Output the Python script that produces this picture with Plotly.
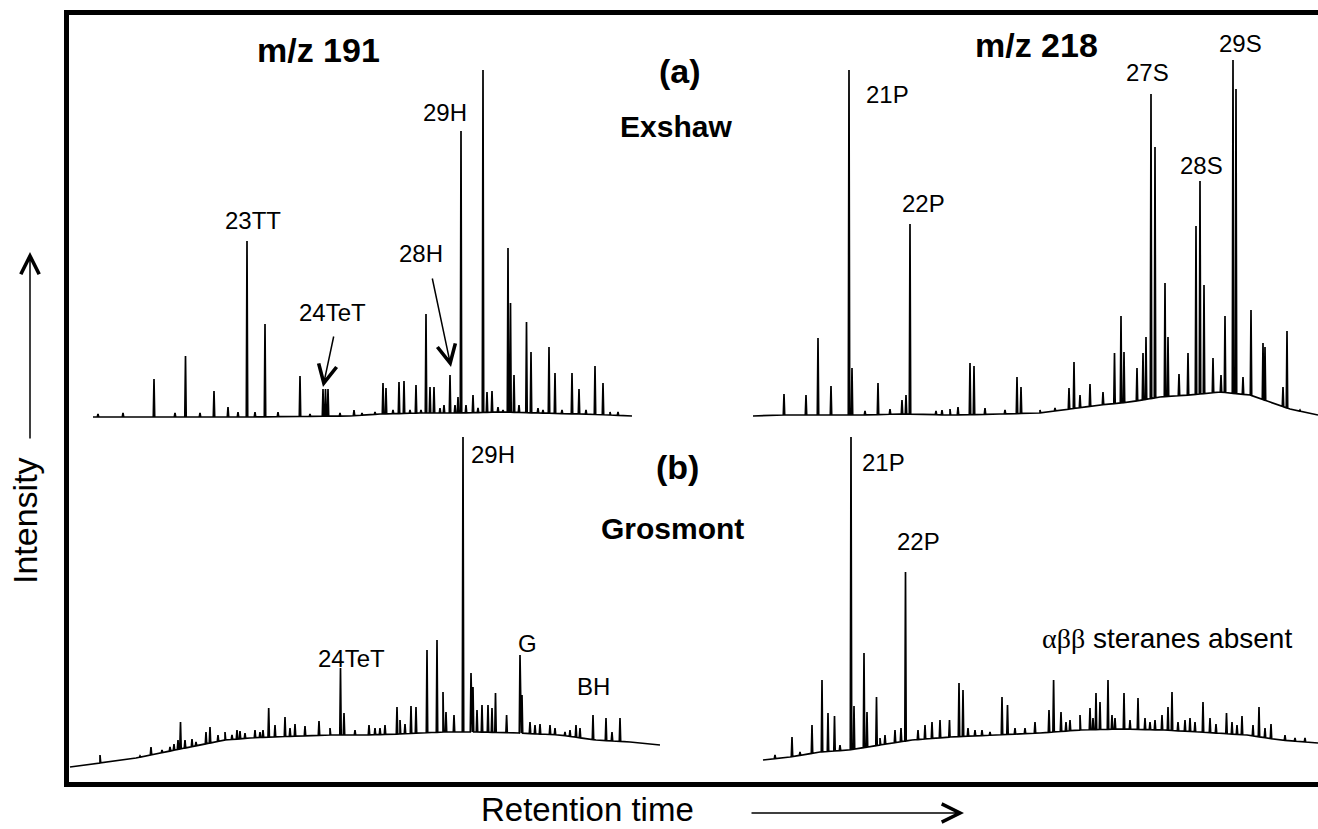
import numpy as np
import plotly.graph_objects as go

W, H = 1318, 829
FONT = "Liberation Sans, Arial, sans-serif"

# ---------------- data (retention time in min, intensity in arbitrary units) ----------------
# (a) Exshaw, m/z 191
ex191_base_t = [9.3, 15.0, 25.0, 35.0, 38.0, 42.0, 46.0, 50.0, 54.0, 58.0, 61.0, 63.2]
ex191_base_i = [0, 0, 0, 1, 3, 4, 4, 5, 4, 3, 2, 1]
ex191_peak_t = [9.8, 12.3, 15.4, 17.5, 18.55, 20.0, 21.4, 22.8, 23.8, 24.7, 25.5, 26.5, 27.8,
                30.0, 31.0, 32.3, 32.55, 32.8, 34.0, 35.4, 36.2, 37.5, 38.3, 38.6, 39.3, 39.9,
                40.4, 41.0, 41.6, 42.1, 42.6, 43.0, 43.4, 44.0, 44.4, 45.0, 45.5, 45.8, 46.1,
                46.6, 47.3, 47.8, 48.3, 48.7, 49.2, 49.8, 50.3, 50.8, 51.05, 51.4, 51.9, 52.65,
                53.1, 53.8, 54.3, 54.9, 55.5, 56.2, 57.2, 57.9, 58.6, 59.5, 60.3, 61.0, 61.8]
ex191_peak_i = [3, 4, 38, 4, 61, 4, 26, 10, 5, 176, 5, 93, 5,
                41, 3, 28, 28, 28, 4, 7, 4, 5, 34, 29, 7, 35,
                36, 7, 32, 7, 103, 30, 30, 9, 12, 42, 12, 20, 286,
                12, 22, 9, 347, 25, 26, 10, 7, 169, 114, 42, 12, 95,
                65, 9, 7, 70, 44, 7, 44, 28, 7, 51, 34, 5, 5]

# (a) Exshaw, m/z 218
ex218_base_t = [75.3, 78.0, 82.0, 86.0, 90.0, 95.0, 100.0, 104.0, 107.0, 110.0, 113.0, 116.0,
                119.0, 122.0, 125.0, 127.0, 129.0, 131.8]
ex218_base_i = [1, 2, 2, 2, 3, 2, 3, 4, 8, 12, 15, 20, 22, 25, 22, 15, 8, 2]
ex218_peak_t = [78.4, 80.6, 81.8, 83.1, 84.9, 85.2, 86.5, 87.8, 89.0, 90.2, 90.6, 91.0, 93.6,
                94.2, 95.0, 95.8, 97.0, 97.4, 98.5, 100.5, 101.7, 102.1, 104.0, 105.5, 106.9,
                107.4, 108.0, 109.0, 110.3, 111.45, 112.1, 112.4, 113.7, 114.3, 114.6, 115.1,
                115.5, 116.5, 116.8, 117.9, 118.8, 119.6, 120.0, 120.4, 121.3, 122.1, 122.5,
                123.3, 123.6, 124.3, 125.1, 126.3, 126.5, 128.3, 128.7, 130.0]
ex218_peak_i = [23, 22, 79, 31, 347, 49, 6, 34, 8, 17, 22, 193, 6,
                7, 8, 10, 54, 51, 9, 7, 40, 30, 7, 9, 29,
                55, 22, 33, 25, 64, 101, 65, 49, 64, 80, 323,
                270, 134, 80, 43, 64, 191, 236, 132, 59, 42, 101,
                357, 328, 40, 107, 74, 70, 30, 86, 7]

# (b) Grosmont, m/z 191
gr191_base_t = [7.0, 10.0, 13.6, 17.5, 20.0, 22.5, 25.0, 27.0, 30.0, 33.0, 36.6, 40.0, 44.3,
                48.0, 51.9, 56.0, 59.6, 63.0, 66.0]
gr191_base_i = [13, 17, 22, 30, 35, 40, 42, 43, 44, 45, 45, 46, 48, 48, 47, 45, 40, 38, 35]
gr191_peak_t = [10.0, 14.0, 15.1, 16.2, 17.0, 17.4, 17.8, 18.05, 18.5, 19.2, 19.6, 20.6, 21.0,
                21.8, 22.5, 23.2, 23.7, 24.0, 24.5, 25.5, 26.0, 26.3, 26.87, 27.5, 28.5, 29.0,
                29.5, 30.5, 31.9, 33.0, 34.05, 34.4, 35.5, 36.9, 37.5, 38.0, 38.5, 39.7, 40.0,
                40.5, 41.1, 41.6, 42.7, 43.7, 44.3, 44.6, 45.4, 46.3, 47.1, 47.3, 47.7, 48.2,
                48.8, 49.2, 49.55, 50.66, 52.0, 52.2, 53.0, 53.5, 54.0, 55.0, 55.5, 56.5, 57.0,
                57.6, 58.0, 59.3, 60.6, 61.2, 62.0]
gr191_peak_i = [25, 24, 33, 30, 33, 36, 40, 58, 40, 41, 38, 48, 53,
                45, 48, 45, 50, 49, 47, 50, 48, 50, 72, 55, 63, 52,
                56, 54, 59, 52, 112, 67, 50, 55, 52, 52, 55, 73, 60,
                56, 74, 73, 130, 140, 88, 68, 65, 343, 107, 93, 70, 75,
                75, 72, 87, 65, 125, 85, 58, 55, 56, 55, 52, 48, 50,
                55, 52, 65, 62, 48, 62]

# (b) Grosmont, m/z 218
gr218_base_t = [76.3, 79.0, 82.0, 84.9, 88.0, 91.2, 95.0, 99.6, 104.0, 108.0, 112.0, 116.4,
                120.0, 124.7, 128.0, 131.8]
gr218_base_i = [20, 23, 28, 30, 35, 40, 43, 45, 47, 50, 51, 50, 48, 45, 40, 37]
gr218_peak_t = [77.5, 79.2, 80.0, 81.2, 82.2, 82.8, 83.45, 84.0, 85.1, 85.4, 86.4, 86.7, 87.65,
                88.0, 88.5, 89.5, 90.1, 90.55, 91.8, 92.5, 93.2, 94.0, 94.95, 95.9, 96.3, 96.8,
                97.5, 98.2, 99.0, 100.2, 100.75, 101.5, 102.5, 103.5, 104.9, 105.36, 106.1,
                106.6, 107.0, 108.0, 109.0, 109.3, 109.6, 110.0, 110.8, 111.2, 111.5, 112.4,
                113.0, 113.8, 114.5, 115.0, 115.5, 116.2, 116.8, 117.2, 117.8, 118.5, 119.0,
                119.5, 120.3, 121.0, 121.6, 122.65, 123.2, 123.7, 124.2, 125.3, 125.9, 126.5,
                127.1, 128.5, 129.5, 130.5]
gr218_peak_i = [25, 43, 28, 55, 100, 67, 64, 35, 343, 74, 127, 68, 83,
                42, 45, 50, 52, 208, 50, 55, 58, 60, 60, 97, 90, 52,
                50, 50, 48, 83, 75, 52, 52, 58, 70, 100, 68,
                58, 60, 65, 72, 62, 87, 78, 100, 65, 62, 87,
                60, 82, 62, 58, 60, 65, 73, 88, 58, 60, 62,
                58, 78, 62, 56, 67, 58, 55, 64, 55, 73, 52,
                56, 45, 42, 42]

# peak labels: (text, retention time, intensity, row)
peak_labels = [
    ("23TT", 25.3, 197, 1), ("24TeT", 33.2, 105, 1), ("28H", 42.1, 164, 1), ("29H", 44.5, 305, 1),
    ("21P", 88.7, 323, 1), ("22P", 92.3, 214, 1), ("27S", 114.7, 345, 1), ("28S", 120.1, 252, 1),
    ("29S", 124.0, 374, 1),
    ("29H", 49.3, 326, 2), ("24TeT", 35.1, 122, 2), ("G", 52.75, 137, 2), ("BH", 59.35, 94, 2),
    ("21P", 88.3, 318, 2), ("22P", 91.8, 239, 2),
]


# ---------------- build chromatogram lines ----------------
def chromatogram(bt, bi, pt, pi, hw=0.07):
    bt = np.asarray(bt, float)
    bi = np.asarray(bi, float)
    pts = list(zip(bt, bi))
    for t, a in zip(pt, pi):
        base_l = float(np.interp(t - hw, bt, bi))
        base_r = float(np.interp(t + hw, bt, bi))
        pts += [(t - hw, base_l), (t, a), (t + hw, base_r)]
    pts.sort(key=lambda p: p[0])
    return [p[0] for p in pts], [p[1] for p in pts]


fig = go.Figure()
series = [
    (ex191_base_t, ex191_base_i, ex191_peak_t, ex191_peak_i, "y", "Exshaw m/z 191"),
    (ex218_base_t, ex218_base_i, ex218_peak_t, ex218_peak_i, "y", "Exshaw m/z 218"),
    (gr191_base_t, gr191_base_i, gr191_peak_t, gr191_peak_i, "y2", "Grosmont m/z 191"),
    (gr218_base_t, gr218_base_i, gr218_peak_t, gr218_peak_i, "y2", "Grosmont m/z 218"),
]
for bt, bi, pt, pi, ya, name in series:
    xs, ys = chromatogram(bt, bi, pt, pi)
    fig.add_trace(go.Scatter(x=xs, y=ys, mode="lines", yaxis=ya, name=name,
                             line=dict(color="black", width=1.7), hoverinfo="skip",
                             showlegend=False))


def px(x):
    return x / W


def py(y):
    return 1 - y / H


ann = []
for text, t, i, row in peak_labels:
    ann.append(dict(text=text, x=t, y=i, xref="x", yref="y" if row == 1 else "y2",
                    showarrow=False, xanchor="center", yanchor="middle",
                    font=dict(family=FONT, size=24, color="black")))

titles = [
    ("<b>m/z 191</b>", 318, 50, 34), ("<b>m/z 218</b>", 1036, 45, 34),
    ("<b>(a)</b>", 680, 71, 34), ("<b>Exshaw</b>", 676, 126, 30),
    ("<b>(b)</b>", 677, 467, 34), ("<b>Grosmont</b>", 672, 528, 30),
    ("Retention time", 587, 809, 33),
]
for text, x, y, s in titles:
    ann.append(dict(text=text, x=px(x), y=py(y), xref="paper", yref="paper", showarrow=False,
                    xanchor="center", yanchor="middle",
                    font=dict(family=FONT, size=s, color="black")))

ann.append(dict(text="Intensity", x=px(25), y=py(521), xref="paper", yref="paper",
                showarrow=False, textangle=-90, xanchor="center", yanchor="middle",
                font=dict(family=FONT, size=34, color="black")))
ann.append(dict(text="<span style=\"font-family:'Liberation Serif', 'Times New Roman', serif\">αββ</span> steranes absent",
                x=116.7, y=142, xref="x", yref="y2", showarrow=False,
                xanchor="center", yanchor="middle",
                font=dict(family=FONT, size=28, color="black")))

arrow_style = dict(showarrow=True, arrowhead=5, arrowsize=2.4, arrowwidth=1.5,
                   arrowcolor="black", standoff=0, text="")
# axis arrows
ann.append(dict(x=px(30), y=py(252), xref="paper", yref="paper", ax=0, ay=188, **arrow_style))
ann.append(dict(x=px(964), y=py(813), xref="paper", yref="paper", ax=-214, ay=0, **arrow_style))
# label arrows pointing to peaks
ann.append(dict(x=32.3, y=30, xref="x", yref="y", ax=11, ay=-52, **arrow_style))
ann.append(dict(x=45.1, y=50, xref="x", yref="y", ax=-19, ay=-90, **arrow_style))

shapes = [dict(type="rect", xref="paper", yref="paper", x0=px(66.5), x1=px(1340),
               y0=py(784.5), y1=py(12.5), line=dict(color="black", width=5))]

fig.update_layout(
    width=W, height=H, margin=dict(l=0, r=0, t=0, b=0),
    paper_bgcolor="white", plot_bgcolor="white",
    xaxis=dict(range=[0, 131.8], domain=[0, 1], visible=False, fixedrange=True),
    yaxis=dict(range=[-412, 417], domain=[0, 1], visible=False, fixedrange=True),
    yaxis2=dict(range=[-49, 780], overlaying="y", anchor="x", visible=False, fixedrange=True),
    annotations=ann, shapes=shapes, showlegend=False,
)

fig.write_html("out.html", config={"displayModeBar": False},
               post_script="document.body.style.margin='0';document.body.style.overflow='hidden';")
